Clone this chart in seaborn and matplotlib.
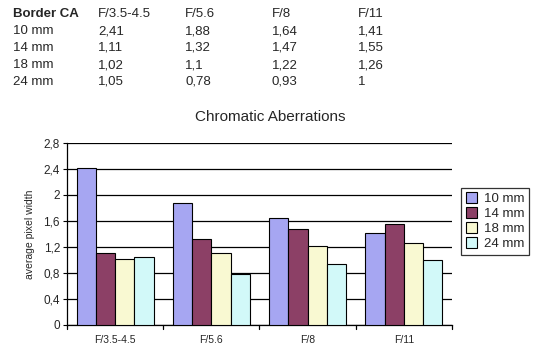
import matplotlib
matplotlib.use("Agg")
import matplotlib.pyplot as plt
import seaborn as sns
import pandas as pd

apertures = ['F/3.5-4.5', 'F/5.6', 'F/8', 'F/11']
focal = ['10 mm', '14 mm', '18 mm', '24 mm']
ca_10 = [2.41, 1.88, 1.64, 1.41]
ca_14 = [1.11, 1.32, 1.47, 1.55]
ca_18 = [1.02, 1.10, 1.22, 1.26]
ca_24 = [1.05, 0.78, 0.93, 1.00]
table_vals = ['2,41 1,88 1,64 1,41', '1,11 1,32 1,47 1,55',
              '1,02 1,1 1,22 1,26', '1,05 0,78 0,93 1']
palette = ['#9999FF', '#993366', '#FFFFCC', '#CCFFFF']

rows = []
for f, vals in zip(focal, [ca_10, ca_14, ca_18, ca_24]):
    for a, v in zip(apertures, vals):
        rows.append({'aperture': a, 'focal': f, 'ca': v})
df = pd.DataFrame(rows)

sns.set_theme(style="white")
plt.rcParams['font.family'] = ['Liberation Sans', 'DejaVu Sans']

fig = plt.figure(figsize=(5.4, 3.59), dpi=100)
ax = fig.add_axes([0.124, 0.095, 0.713, 0.507])

sns.barplot(data=df, x='aperture', y='ca', hue='focal', palette=palette,
            edgecolor='black', linewidth=0.8, width=0.8, gap=0, ax=ax, zorder=3)

ax.set_ylim(0, 2.8)
ax.set_xlim(-0.5, 3.5)
yt = [0, 0.4, 0.8, 1.2, 1.6, 2.0, 2.4, 2.8]
ax.set_yticks(yt)
ax.set_yticklabels([('%g' % t).replace('.', ',') for t in yt], fontsize=8.5)
ax.yaxis.grid(True, color='black', linewidth=0.9, zorder=0)
ax.set_axisbelow(True)
ax.set_xticks(range(4))
ax.set_xticklabels(apertures, fontsize=7.5)
ax.tick_params(axis='x', length=0, pad=7)
ax.tick_params(axis='y', length=3, width=0.8, color='black', direction='out', left=True, pad=2)
for b in [-0.5, 0.5, 1.5, 2.5, 3.5]:
    ax.plot([b, b], [0, -0.02], transform=ax.get_xaxis_transform(), color='black',
            lw=0.9, clip_on=False)
ax.set_xlabel('')
ax.set_ylabel('average pixel width', fontsize=7.5, labelpad=6)
for s in ['top', 'right']:
    ax.spines[s].set_visible(False)
for s in ['left', 'bottom']:
    ax.spines[s].set_color('black')
    ax.spines[s].set_linewidth(0.9)

ax.legend(title=None, loc='upper left', bbox_to_anchor=(1.006, 0.79), fontsize=9.5,
          frameon=True, fancybox=False, edgecolor='black', handlelength=0.9,
          handleheight=0.9, handletextpad=0.5, borderpad=0.35, labelspacing=0.15)
ax.get_legend().get_frame().set_linewidth(0.9)

fig.text(0.5, 1 - 117 / 359, 'Chromatic Aberrations', ha='center', va='center', fontsize=11)

# data table above the chart
col_x = [13, 98, 185, 272, 358]
row_y = [17, 34, 51, 68, 85]
header = ['Border CA'] + apertures
for x, h in zip(col_x, header):
    fig.text(x / 540, 1 - row_y[0] / 359, h, ha='left', va='baseline', fontsize=9.5,
             fontweight='bold' if h == 'Border CA' else 'normal')
for f, line, y in zip(focal, table_vals, row_y[1:]):
    for x, t in zip(col_x, [f] + line.split()):
        fig.text(x / 540, 1 - y / 359, t, ha='left', va='baseline', fontsize=9.5)

fig.savefig('out.png', dpi=100)
